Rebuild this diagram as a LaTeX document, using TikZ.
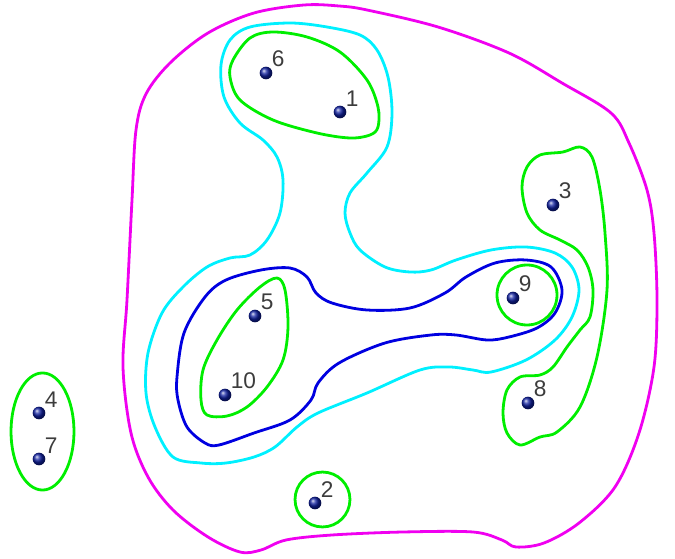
\documentclass[tikz,border=0pt]{standalone}
\usepackage{fontspec}
\setmainfont{Liberation Sans}
\usepackage{tikz}
\usepackage{xcolor}
\definecolor{hull}{HTML}{F000F0}
\definecolor{lvlc}{HTML}{00F0FF}
\definecolor{lvlb}{HTML}{0000E0}
\definecolor{lvlg}{HTML}{00EE00}
\definecolor{ink}{HTML}{3C3C3C}
\definecolor{dot}{HTML}{1020A0}
\tikzset{
  contour/.style={line width=2.1pt,line join=round},
  hullline/.style={contour,draw=hull},
  cyanline/.style={contour,draw=lvlc},
  blueline/.style={contour,draw=lvlb},
  greenline/.style={contour,draw=lvlg},
  pt/.style={circle,inner sep=0pt,minimum size=9.5pt,shading=ball,ball color=dot},
  num/.style={font=\fontsize{17}{17}\selectfont,text=ink,inner sep=0pt},
  every label/.style={num},
  label distance=1pt,
}

\begin{document}
\begin{tikzpicture}[x=0.75pt,y=-0.75pt]
\useasboundingbox (0,0) rectangle (675,559);

% outer level
\draw[hullline] plot[smooth cycle,tension=0.55] coordinates {
  (254,13) (304,5) (339,6) (367,10) (438,27) (509,53) (562,83) (611,113)
  (629,143) (647,190) (654,233) (657,300) (654,367) (639,433) (615,487)
  (579,523) (544,543) (516,547) (502,540) (473,532) (403,532) (332,535)
  (286,540) (261,550) (240,552) (208,537) (173,510) (148,477) (131,433)
  (123,367) (127,300) (132,200) (136,130) (146,94) (170,63) (208,33)};

% cyan level
\draw[cyanline] plot[smooth cycle,tension=0.55] coordinates {
  (250,27) (290,23) (327,27) (360,35) (377,50) (388,77) (392,113) (387,147)
  (367,173) (350,193) (345,213) (350,233) (360,250) (385,267) (410,272)
  (431,270) (456,260) (491,250) (526,247) (555,253) (572,267) (579,290)
  (572,317) (555,340) (526,360) (491,372) (473,370) (449,367) (420,370)
  (367,393) (318,413) (297,427) (275,447) (254,457) (226,463) (201,463)
  (173,457) (155,427) (146,393) (148,353) (162,313) (183,287) (207,267)
  (230,258) (250,255) (267,240) (280,213) (283,180) (277,157) (263,140)
  (240,123) (224,97) (221,65) (230,40)};

% blue level
\draw[blueline] plot[smooth cycle,tension=0.55] coordinates {
  (226,280) (261,270) (290,268) (307,277) (316,293) (332,303) (367,310)
  (410,308) (445,293) (466,277) (495,263) (526,260) (551,267) (562,290)
  (555,313) (537,328) (509,337) (487,340) (456,335) (431,335) (385,343)
  (339,363) (318,383) (311,400) (290,420) (254,433) (219,445) (205,443)
  (187,427) (178,400) (177,377) (184,333) (205,297)};

% green level
\draw[greenline] plot[smooth cycle,tension=0.55] coordinates {
  (250,38) (273,32) (307,37) (340,52) (367,80) (378,107) (378,127) (370,135)
  (350,138) (317,133) (273,120) (240,100) (230,77) (233,60)};
\draw[greenline] plot[smooth cycle,tension=0.55] coordinates {
  (563,152) (580,147) (592,157) (600,190) (605,233) (607,290) (597,357)
  (580,407) (557,432) (540,437) (520,445) (507,433) (503,413) (507,390)
  (520,377) (540,375) (553,367) (567,347) (580,330) (590,317) (593,290)
  (588,267) (577,250) (560,240) (540,230) (527,213) (522,187) (527,167)
  (540,155)};
\draw[greenline] plot[smooth cycle,tension=0.55] coordinates {
  (277,278) (285,290) (288,327) (283,360) (267,387) (247,407) (227,416)
  (207,415) (201,400) (203,370) (217,340) (237,310) (260,287)};
\draw[greenline] (527,295) circle[radius=22.5pt];
\draw[greenline] (322.5,499.5) circle[radius=20.6pt];
\draw[greenline] (42.5,431.5) ellipse[x radius=23.6pt,y radius=43.9pt];

% points
\node[pt,label=45:1] (p1) at (340,112) {};
\node[pt,label=45:2] (p2) at (315,503) {};
\node[pt,label=45:3] (p3) at (553,205) {};
\node[pt,label=45:4] (p4) at (39,413) {};
\node[pt,label=45:5] (p5) at (255,316) {};
\node[pt,label=45:6] (p6) at (266,73) {};
\node[pt,label=45:7] (p7) at (39,459) {};
\node[pt,label=45:8] (p8) at (528,403) {};
\node[pt,label=45:9] (p9) at (513,298) {};
\node[pt,label=45:10] (p10) at (225,395) {};

\end{tikzpicture}
\end{document}
